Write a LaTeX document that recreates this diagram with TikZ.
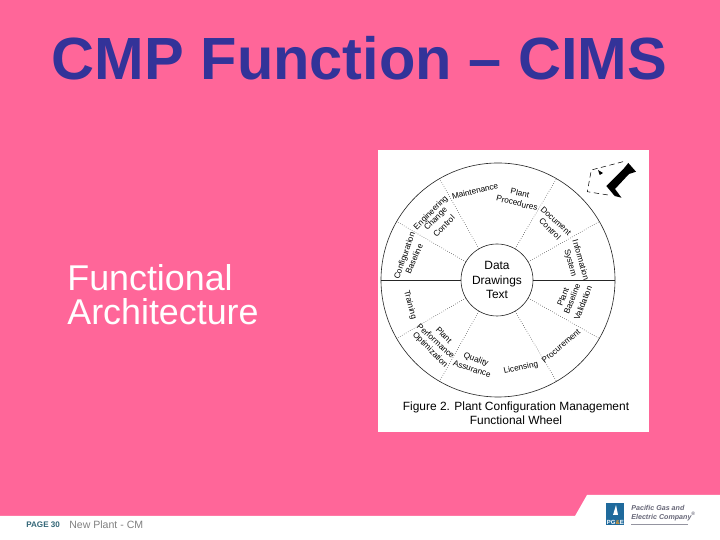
\documentclass[tikz,border=0pt]{standalone}
\usepackage{fontspec}
\setmainfont{Liberation Sans}
\usepackage{xcolor}
\definecolor{slidepink}{HTML}{FF6699}
\definecolor{titleblue}{HTML}{333399}
\definecolor{footgray}{HTML}{808080}
\definecolor{companygray}{HTML}{666677}
\definecolor{pageteal}{HTML}{336677}
\definecolor{logoblue}{HTML}{1F6A9C}
\definecolor{logoorange}{HTML}{F0A030}
\tikzset{
	hairline/.style={line width=0.35pt,black!85},
	spoke/.style={line width=0.3pt,densely dotted,black!80},
	wheeltext/.style={font=\fontsize{4.7}{5}\selectfont,inner sep=0pt},
	hubtext/.style={font=\fontsize{6.8}{8}\selectfont,inner sep=0pt},
}
\begin{document}
\begin{tikzpicture}[x=0.02cm,y=0.02cm]
	\useasboundingbox (0,0) rectangle (720,540);
	%background
	\fill[slidepink] (0,0) rectangle (720,540);
	\fill[white] (0,0) -- (0,24) -- (575,24) -- (587,45) -- (720,45) -- (720,0) -- cycle;
	\fill[white] (378,108) rectangle (649,390);
	
	%title and body text
	\node[text=titleblue,font=\fontsize{33.9}{36}\bfseries\selectfont,inner sep=0pt] (title) at (359.5,482) {CMP Function – CIMS};
	\node[text=white,font=\fontsize{20.4}{19.3}\selectfont,align=left,anchor=west,inner sep=0pt] (body) at (67,245) {Functional\\Architecture};
	
	%wheel
	\node[draw,hairline,circle,minimum size=234*0.02cm,inner sep=0pt] (wheel) at (498,260) {};
	\node[draw,hairline,circle,minimum size=72*0.02cm,inner sep=0pt,align=center,text=black,font=\fontsize{6.8}{8.1}\selectfont] (hub) at (497,260) {Data\\Drawings\\Text};
	
	%spokes
	\draw[hairline] (wheel.west) -- (hub.west);		%horizontal, left
	\draw[hairline] (hub.east) -- (wheel.east);		%horizontal, right
	\draw[spoke] (hub.150) -- (wheel.150);
	\draw[spoke] (hub.120) -- (wheel.120);
	\draw[spoke] (hub.60) -- (wheel.60);
	\draw[spoke] (hub.30) -- (wheel.30);
	\draw[spoke] (hub.-30) -- (wheel.-30);
	\draw[spoke] (hub.-60) -- (wheel.-60);
	\draw[spoke] (hub.-120) -- (wheel.-120);
	\draw[spoke] (hub.-150) -- (wheel.-150);
	
	%wheel labels, upper half
	\node[wheeltext,rotate=14] (maint) at (475,349) {Maintenance};
	\node[wheeltext,rotate=-12] (plantproc) at (520,347) {Plant};
	\node[wheeltext,rotate=-14] (proc) at (517,337) {Procedures};
	\node[wheeltext,rotate=-42] (docu) at (556,319) {Document};
	\node[wheeltext,rotate=-45] (docctl) at (550,311) {Control};
	\node[wheeltext,rotate=-74] (info) at (581,280) {Information};
	\node[wheeltext,rotate=-74] (sys) at (570,277) {System};
	\node[wheeltext,rotate=45] (eng) at (431,327) {Engineering};
	\node[wheeltext,rotate=45] (change) at (436,321) {Change};
	\node[wheeltext,rotate=45] (chgctl) at (444,314) {Control};
	\node[wheeltext,rotate=71] (config) at (405,284) {Configuration};
	\node[wheeltext,rotate=66] (cfgbase) at (414,281) {Baseline};
	
	%wheel labels, lower half
	\node[wheeltext,rotate=-75] (train) at (410,235) {Training};
	\node[wheeltext,rotate=-45] (plantperf) at (444,205) {Plant};
	\node[wheeltext,rotate=-42] (perf) at (436,199) {Performance};
	\node[wheeltext,rotate=-45] (optim) at (430,190) {Optimization};
	\node[wheeltext,rotate=-20] (quality) at (476,180) {Quality};
	\node[wheeltext,rotate=-18] (assur) at (472,171) {Assurance};
	\node[wheeltext,rotate=13] (licens) at (521,172) {Licensing};
	\node[wheeltext,rotate=40] (procure) at (561,194) {Procurement};
	\node[wheeltext,rotate=68] (plantbase) at (563,243) {Plant};
	\node[wheeltext,rotate=68] (basel) at (572,241) {Baseline};
	\node[wheeltext,rotate=68] (valid) at (583,237) {Validation};
	
	%caption
	\node[hubtext,align=center] (caption) at (516,126.5) {Figure 2. Plant Configuration Management\\Functional Wheel};
	
	%north arrow
	\fill[black] (628.3,377) -- (636,368.3) -- (629,366) -- (615,351) -- (621.5,342.3) -- (614.7,344) -- (606.3,354) -- (624,371.7) -- cycle;
	\coordinate (boxa) at (623,378.3);
	\coordinate (boxb) at (591.3,370);
	\coordinate (boxc) at (587.3,348.3);
	\coordinate (boxd) at (608,345);
	\draw[line width=0.3pt,densely dashed] (boxa) -- (boxb) -- (boxc) -- (boxd);
	\fill[black] (598,370) -- (603,367) -- (599.7,365) -- cycle;
	
	%footer
	\node[text=pageteal,font=\fontsize{4.6}{5}\bfseries\selectfont,anchor=west,inner sep=0pt] (page) at (26,15) {PAGE 30};
	\node[text=footgray,font=\fontsize{6}{7}\selectfont,anchor=west,inner sep=0pt] (plant) at (69,15) {New Plant - CM};
	
	%logo
	\node[fill=logoblue,minimum width=18*0.02cm,minimum height=22*0.02cm,inner sep=0pt,anchor=north west] (logo) at (606,37) {};
	\fill[white] (613,25) -- (616,35) -- (618,25) -- cycle;
	\node[text=white,font=\fontsize{3.4}{4}\bfseries\selectfont,inner sep=0.6pt,anchor=south] (logotext) at (logo.south) {PG{\color{logoorange}\&}E};
	\node[text=companygray,font=\fontsize{4.05}{5.2}\bfseries\itshape\selectfont,align=left,anchor=west,inner sep=0pt] (company) at (631,27) {Pacific Gas and\\Electric Company\textsuperscript{®}};
	\coordinate (ruleend) at (688,16);
	\draw[companygray!70,line width=0.4pt] (ruleend) -- ++(-57,0);
\end{tikzpicture}
\end{document}
